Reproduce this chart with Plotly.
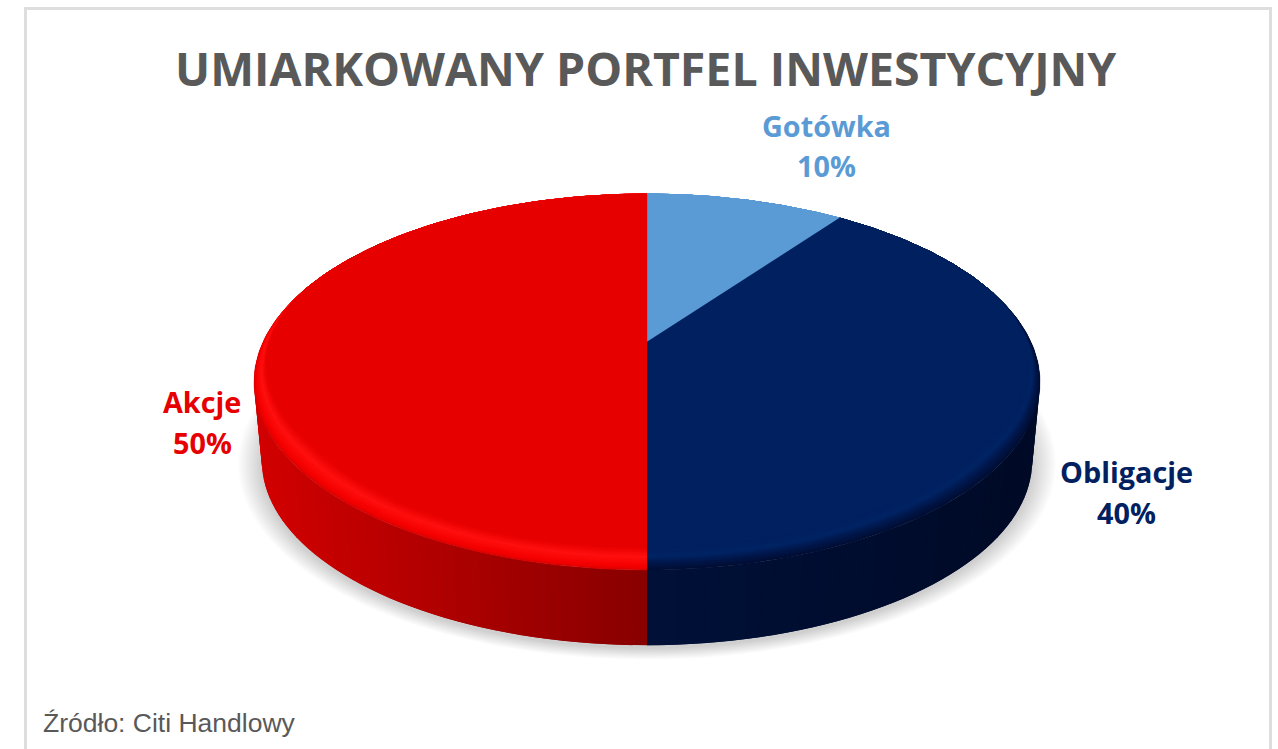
import numpy as np
import plotly.graph_objects as go

# Portfolio shares, clockwise from twelve o'clock
categories = ["Gotówka", "Obligacje", "Akcje"]
shares = [10, 40, 50]

title_text = "UMIARKOWANY PORTFEL INWESTYCYJNY"
source_text = "Źródło: Citi Handlowy"

BLUE, NAVY, RED = "#5b9bd5", "#00205f", "#e60000"
LABEL_COLORS = ["#5b9bd5", "#002060", "#e60000"]

# Perspective disc: the rim is a circle seen from above, the hub projects off-centre
CX, HUB_Y, MID_Y = 647.0, 342.0, 382.0
HALF_W, HALF_H, TILT = 384.0, 179.5, 0.2128
BACK_Y = 194.0
DROP, BASE_SCALE = 79.0, 0.98


def rim(theta):
    u, v = np.sin(theta), np.cos(theta)
    w = 1 + TILT * v
    return CX + HALF_W * u / w, HUB_Y - HALF_H * v / w


def base(x, y):
    return CX + BASE_SCALE * (x - CX), MID_Y + DROP + BASE_SCALE * (y - MID_Y)


def lerp_color(a, b, t):
    ca = [int(a[i:i + 2], 16) for i in (1, 3, 5)]
    cb = [int(b[i:i + 2], 16) for i in (1, 3, 5)]
    return "#%02x%02x%02x" % tuple(round(p + (q - p) * t) for p, q in zip(ca, cb))


def ramp(stops, s):
    for (s0, c0), (s1, c1) in zip(stops, stops[1:]):
        if s1 <= s <= s0:
            return lerp_color(c0, c1, (s0 - s) / (s0 - s1))
    return stops[-1][1]


def polygon(x, y, color, edge=0.0):
    return go.Scatter(x=x, y=y, mode="lines", fill="toself", fillcolor=color,
                      line=dict(color=color, width=edge), hoverinfo="skip", showlegend=False)


fig = go.Figure()

# Soft cast shadow under the base
for grow in np.linspace(24, 1, 16):
    t = np.linspace(0, 2 * np.pi, 240)
    bx, by = base(*rim(t))
    k = 1 + grow / 385
    fig.add_trace(go.Scatter(
        x=CX + k * (bx - CX), y=MID_Y + DROP + 3 + k * (by - MID_Y - DROP),
        mode="lines", fill="toself", fillcolor="rgba(0,0,0,0.012)",
        line=dict(width=0), hoverinfo="skip", showlegend=False))

# Slice boundaries, derived from the shares
edges = 2 * np.pi * np.cumsum([0] + shares) / sum(shares)

# Side wall: overlapping quads shaded across the front of the pie
SIDE_SHADES = {
    "Obligacje": lambda f: lerp_color("#001038", "#000a26", f),
    "Akcje": lambda f: lerp_color("#880000", "#d20000", f),
}
wall_start, wall_end = np.radians(60), np.radians(300)
for i, name in enumerate(categories):
    if name not in SIDE_SHADES:
        continue
    a0, a1 = max(edges[i], wall_start), min(edges[i + 1], wall_end)
    steps = np.linspace(a0, a1, 71)
    for j, t0 in enumerate(steps[:-1]):
        t1 = steps[min(j + 2, len(steps) - 1)]
        tt = np.linspace(t0, t1, 4)
        x, y = rim(tt)
        xb, yb = base(x, y)
        mid = abs(x[:2].mean() - CX) / 393
        fig.add_trace(polygon(np.r_[x, xb[::-1]], np.r_[y, yb[::-1]], SIDE_SHADES[name](mid)))

# Bevelled top: stacked faces whose inset fades out towards the back of the rim
BEVELS = {
    "Gotówka": [(1.0, BLUE), (0.94, BLUE)],
    "Obligacje": [(1.0, "#000e34"), (0.985, "#001546"), (0.965, "#002464"), (0.94, NAVY)],
    "Akcje": [(1.0, "#dc0000"), (0.992, "#f40000"), (0.965, "#ff1010"), (0.94, RED)],
}
for s in np.linspace(1.0, 0.94, 25):
    for i, name in enumerate(categories):
        tt = np.linspace(edges[i], edges[i + 1], 180)
        x, y = rim(tt)
        inset = (1 - s) * np.clip((0.3 - np.cos(tt)) / 0.9, 0, 1)
        px = CX + (1 - inset) * (x - CX)
        py = BACK_Y + (1 - inset) * (y - BACK_Y)
        fig.add_trace(polygon(np.r_[CX, px, CX], np.r_[HUB_Y, py, HUB_Y], ramp(BEVELS[name], s), 0.4))

annotations = [
    dict(x=646, y=68, text=f"<b>{title_text}</b>", font=dict(family="Open Sans", size=46.5, color="#595959")),
    dict(x=41, y=723, text=source_text, xanchor="left",
         font=dict(family="Liberation Sans", size=26.5, color="#595959")),
]

# Name and percentage of each slice, placed around the pie
LABEL_SPOTS = [(826, 125, 165), (1126, 471, 512), (202, 401, 442)]
for name, share, color, (lx, y1, y2) in zip(categories, shares, LABEL_COLORS, LABEL_SPOTS):
    for text, ly in ((name, y1), (f"{share}%", y2)):
        annotations.append(dict(x=lx, y=ly, text=f"<b>{text}</b>",
                                font=dict(family="Open Sans", size=28.8, color=color)))

for a in annotations:
    a.update(xref="x", yref="y", showarrow=False)
    a.setdefault("xanchor", "center")
    a["yanchor"] = "middle"

fig.update_layout(
    width=1278, height=749, margin=dict(l=0, r=0, t=0, b=0, pad=0),
    autosize=False, paper_bgcolor="white", plot_bgcolor="white",
    showlegend=False, annotations=annotations,
    xaxis=dict(range=[0, 1278], visible=False, fixedrange=True),
    yaxis=dict(range=[749, 0], visible=False, fixedrange=True),
    shapes=[dict(type="rect", xref="x", yref="y", x0=25.5, y0=8.5, x1=1270.5, y1=800,
                 line=dict(color="#dedede", width=3), fillcolor="rgba(0,0,0,0)", layer="below")],
)

fig.write_html("out.html", config={"displayModeBar": False})
